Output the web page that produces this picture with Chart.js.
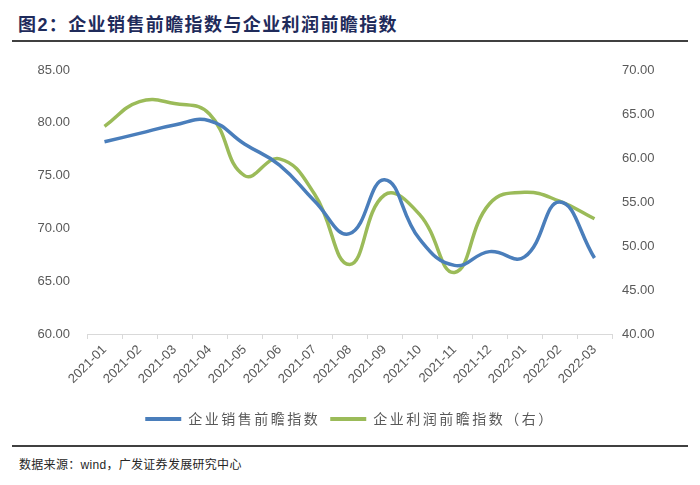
<!DOCTYPE html>
<html><head><meta charset="utf-8">
<script src="https://cdn.jsdelivr.net/npm/chart.js@4.4.1/dist/chart.umd.min.js"></script>
<style>
html,body{margin:0;padding:0;background:#fff;}
body{width:700px;height:485px;position:relative;overflow:hidden;font-family:"Liberation Sans",Arial,"Noto Sans CJK SC",sans-serif;}
#title{position:absolute;left:18px;top:10px;font-family:"Liberation Sans","Noto Sans CJK SC",sans-serif;font-weight:bold;font-size:18px;color:#1F2B5B;letter-spacing:1.4px;white-space:nowrap;}
#l1{position:absolute;left:12px;top:40px;width:676px;height:2px;background:#404040;}
#l2{position:absolute;left:12px;top:445px;width:676px;height:1.5px;background:#404040;}
#src{position:absolute;left:19px;top:455px;font-size:12px;color:#262626;letter-spacing:0.3px;font-family:"Liberation Sans","Noto Sans CJK SC",sans-serif;white-space:nowrap;}
#wrap{position:absolute;left:0;top:50px;width:700px;height:390px;}
</style></head>
<body>
<div id="title">图2：企业销售前瞻指数与企业利润前瞻指数</div>
<div id="l1"></div>
<div id="wrap"><canvas id="c"></canvas></div>
<div id="l2"></div>
<div id="src">数据来源：wind，广发证券发展研究中心</div>
<script>
const categories = ['2021-01','2021-02','2021-03','2021-04','2021-05','2021-06','2021-07','2021-08','2021-09','2021-10','2021-11','2021-12','2022-01','2022-02','2022-03'];
const salesIndex = [78.2, 79.0, 79.8, 80.2, 78.0, 76.0, 72.6, 69.5, 74.6, 69.0, 66.5, 67.8, 67.3, 72.5, 67.2];
const profitIndex = [63.6, 66.4, 66.2, 65.0, 58.0, 59.9, 55.9, 47.9, 55.8, 53.6, 47.0, 54.8, 56.1, 55.1, 53.1];
const seriesNames = ['企业销售前瞻指数', '企业利润前瞻指数（右）'];
const leftTicks = [60, 65, 70, 75, 80, 85];
const rightTicks = [40, 45, 50, 55, 60, 65, 70];

const BLUE = '#4A7EBB', GREEN = '#9BBB59', TICK = '#595959';

const spacingPlugin = {
  id: 'legendSpacing',
  beforeLayout(chart) {
    const lg = chart.legend;
    if (!lg || lg._wrapped) return;
    lg._wrapped = true;
    const of = lg.fit.bind(lg), od = lg.draw.bind(lg);
    lg.fit = function(){ const c = chart.ctx; c.letterSpacing = '2.5px'; of(); c.letterSpacing = '0px'; };
    lg.draw = function(){ const c = chart.ctx; c.letterSpacing = '2.5px'; od(); c.letterSpacing = '0px'; };
  }
};

new Chart(document.getElementById('c'), {
  type: 'line',
  data: {
    labels: categories,
    datasets: [
      { label: seriesNames[0], data: salesIndex, yAxisID: 'y', borderColor: BLUE, backgroundColor: BLUE, borderWidth: 3.5, pointRadius: 0, tension: 0.45, fill: false },
      { label: seriesNames[1], data: profitIndex, yAxisID: 'y1', borderColor: GREEN, backgroundColor: GREEN, borderWidth: 3.5, pointRadius: 0, tension: 0.45, fill: false }
    ]
  },
  options: {
    responsive: true,
    maintainAspectRatio: false,
    animation: false,
    layout: { padding: { top: 20, bottom: 4, left: 0, right: 0 } },
    plugins: {
      tooltip: { enabled: false },
      legend: {
        position: 'bottom',
        labels: {
          boxWidth: 36, boxHeight: 4, padding: 10,
          color: TICK,
          font: { family: '"Noto Sans CJK SC", sans-serif', size: 14 },
          generateLabels(chart) {
            return Chart.defaults.plugins.legend.labels.generateLabels(chart).map(l => Object.assign(l, { lineWidth: 0 }));
          }
        }
      }
    },
    scales: {
      x: {
        type: 'category',
        offset: true,
        grid: { display: true, offset: true, drawOnChartArea: false, drawTicks: true, tickLength: 5, color: '#D9D9D9' },
        border: { display: true, color: '#D9D9D9', width: 1 },
        ticks: { color: TICK, font: { family: '"Liberation Sans", Arial, sans-serif', size: 13 }, minRotation: 45, maxRotation: 45, padding: 3, autoSkip: false },
        afterFit(s) { s.height = 68; }
      },
      y: {
        position: 'left', min: 60, max: 85,
        afterBuildTicks(s) { s.ticks = leftTicks.map(v => ({ value: v })); },
        grid: { display: false, drawTicks: false },
        border: { display: false },
        ticks: { color: TICK, padding: 17, font: { family: '"Liberation Sans", Arial, sans-serif', size: 13 }, callback: v => Number(v).toFixed(2) },
        afterFit(s) { s.width = 87; s.paddingTop = 0; s.paddingBottom = 0; }
      },
      y1: {
        position: 'right', min: 40, max: 70,
        afterBuildTicks(s) { s.ticks = rightTicks.map(v => ({ value: v })); },
        grid: { display: false, drawTicks: false },
        border: { display: false },
        ticks: { color: TICK, padding: 10, font: { family: '"Liberation Sans", Arial, sans-serif', size: 13 }, callback: v => Number(v).toFixed(2) },
        afterFit(s) { s.width = 88; s.paddingTop = 0; s.paddingBottom = 0; }
      }
    }
  },
  plugins: [spacingPlugin]
});
</script>
</body></html>
